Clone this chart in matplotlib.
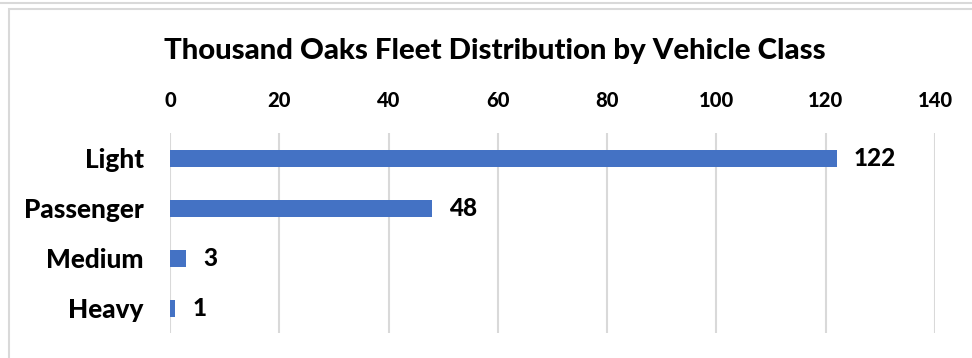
import matplotlib.pyplot as plt
from matplotlib.patches import Rectangle
from matplotlib.lines import Line2D

plt.rcParams['font.family'] = ['Lato', 'DejaVu Sans']
plt.rcParams['font.weight'] = 'black'

categories = ['Light', 'Passenger', 'Medium', 'Heavy']
counts = [122, 48, 3, 1]
ticks = [0, 20, 40, 60, 80, 100, 120, 140]

bar_color = '#4472C4'
grid_color = '#D9D9D9'

W, H = 972, 358
fig = plt.figure(figsize=(W / 100, H / 100), dpi=100)

# chart frame and the edge of the box above it
fig.add_artist(Line2D([0, 1], [1 - 3 / H, 1 - 3 / H], color=grid_color, lw=1.5))
fig.add_artist(Rectangle((8.5 / W, -0.1), 1.2, 1 - 9 / H + 0.1, fill=False,
                         edgecolor=grid_color, lw=1.5))

ax = fig.add_axes([170 / W, 1 - 333 / H, (935 - 170) / W, 200 / H])
ypos = list(range(len(categories)))
ax.barh(ypos, counts, height=0.34, color=bar_color, zorder=3)
ax.set_ylim(len(categories) - 0.5, -0.5)
ax.set_xlim(0, 140)
ax.set_yticks(ypos, categories, fontsize=18.8, fontweight='black')
ax.set_xticks(ticks, [str(t) for t in ticks], fontsize=14.5, fontweight='black')
ax.xaxis.tick_top()
ax.tick_params(axis='x', length=0, pad=16.5)
ax.tick_params(axis='y', length=0, pad=19)
ax.grid(axis='x', color=grid_color, lw=1.5, zorder=0)
for s in ax.spines.values():
    s.set_visible(False)

for y, v in zip(ypos, counts):
    ax.annotate(str(v), (v, y), xytext=(12, 0), textcoords='offset points',
                va='center', ha='left', fontsize=17.5, fontweight='black')

fig.text(495 / W, 1 - 51 / H, 'Thousand Oaks Fleet Distribution by Vehicle Class',
         ha='center', va='center', fontsize=21.2, fontweight='black')

fig.savefig('out.png', dpi=100)
